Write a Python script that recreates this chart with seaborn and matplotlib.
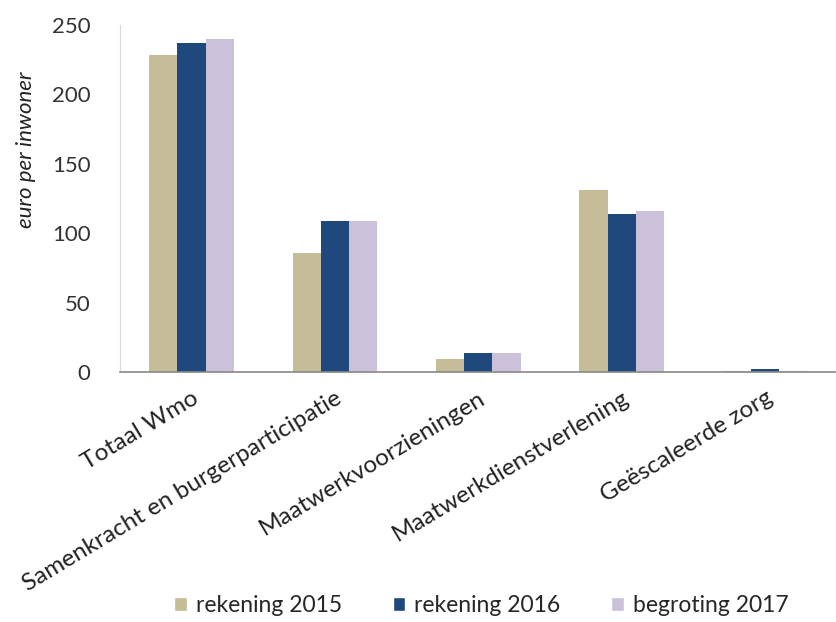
import pandas as pd
import matplotlib.pyplot as plt
import seaborn as sns
from matplotlib.patches import Patch

# data
categories = ['Totaal Wmo', 'Samenkracht en burgerparticipatie', 'Maatwerkvoorzieningen',
              'Maatwerkdienstverlening', 'Geëscaleerde zorg']
series = ['rekening 2015', 'rekening 2016', 'begroting 2017']
rek_2015 = [228, 86, 9, 131, 1]
rek_2016 = [237, 109, 14, 114, 2]
begr_2017 = [240, 109, 14, 116, 1]
colors = ['#C4BD97', '#1F497D', '#CCC1DA']

df = pd.DataFrame({
    'categorie': categories * 3,
    'reeks': [series[0]] * 5 + [series[1]] * 5 + [series[2]] * 5,
    'waarde': rek_2015 + rek_2016 + begr_2017,
})

sns.set_style('white')
plt.rcParams['font.family'] = ['Lato', 'DejaVu Sans']

fig = plt.figure(figsize=(8.37, 6.22), dpi=100)
ax = fig.add_axes([0.143, 0.402, 0.857, 0.558])

sns.barplot(data=df, x='categorie', y='waarde', hue='reeks', order=categories,
            hue_order=series, palette=colors, width=0.59, gap=0, saturation=1,
            errorbar=None, linewidth=0, ax=ax, legend=False)

ax.set_xlim(-0.5, 4.5)
ax.set_ylim(0, 250)
ax.set_yticks([0, 50, 100, 150, 200, 250])
ax.tick_params(axis='y', length=0, pad=21, labelsize=16, labelcolor='#333333')
ax.tick_params(axis='x', length=0, pad=11, labelsize=17.5, labelcolor='#222222')
plt.setp(ax.get_xticklabels(), rotation=31, ha='right', rotation_mode='anchor')

ax.set_xlabel('')
ax.set_ylabel('euro per inwoner', fontsize=16, style='italic', color='#222222')
ax.yaxis.set_label_coords(-0.117, 0.64)

sns.despine(ax=ax, top=True, right=True)
ax.spines['left'].set_color('#D9D9D9')
ax.spines['bottom'].set_color('#888888')
ax.spines['bottom'].set_linewidth(1.2)

handles = [Patch(facecolor=c, label=s) for c, s in zip(colors, series)]
fig.legend(handles=handles, loc='center', bbox_to_anchor=(0.575, 0.027), ncol=3,
           frameon=False, fontsize=16.5, handlelength=0.55, handleheight=0.55,
           handletextpad=0.4, columnspacing=2.2)

plt.savefig('out.png', dpi=100)
